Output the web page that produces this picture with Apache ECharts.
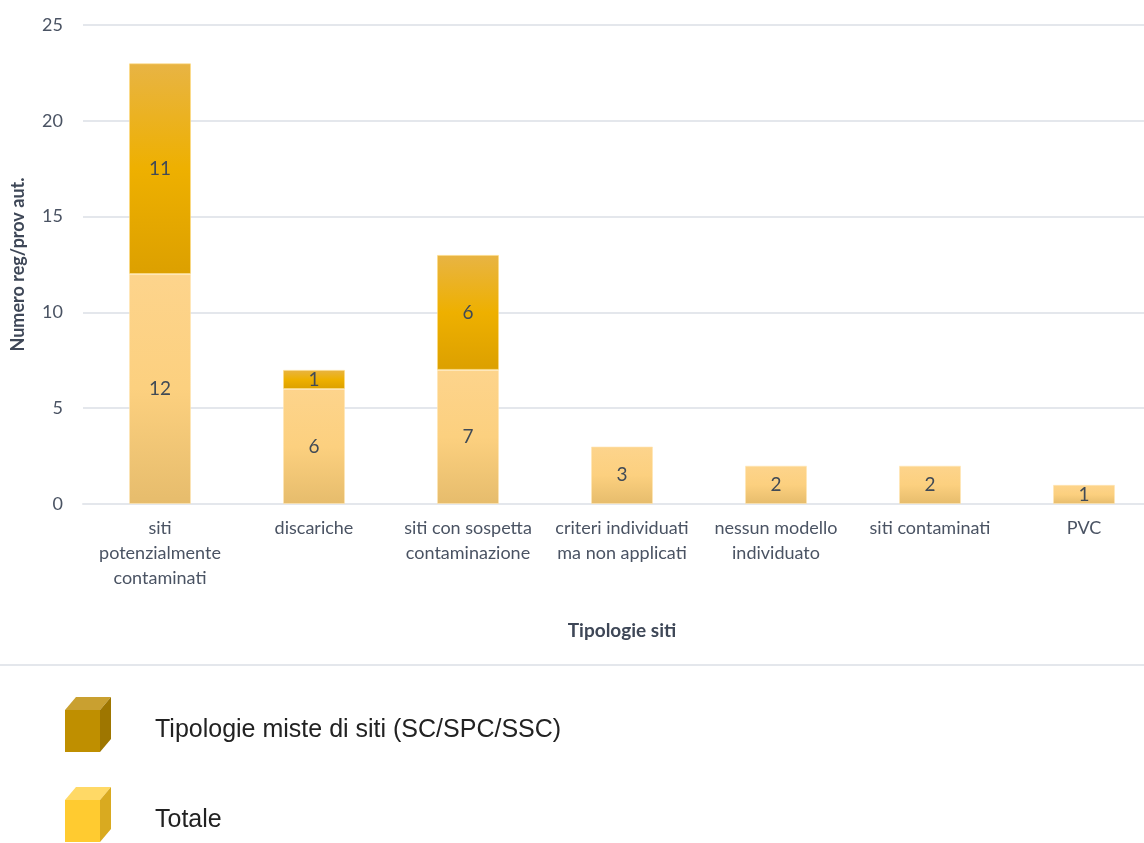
<!DOCTYPE html>
<html><head><meta charset="utf-8">
<script src="https://cdn.jsdelivr.net/npm/echarts@6/dist/echarts.min.js"></script>
<style>html,body{margin:0;padding:0;background:#fff}#c{width:1144px;height:843px}</style>
</head><body><div id="c"></div>
<script>
var categories = ["siti\npotenzialmente\ncontaminati","discariche","siti con sospetta\ncontaminazione","criteri individuati\nma non applicati","nessun modello\nindividuato","siti contaminati","PVC"];
var totale = [12,6,7,3,2,2,1];
var miste = [11,1,6,null,null,null,null];
var yTicks = {min:0,max:25,interval:5};

function boxIcon(front, top, side){
  var s = '<svg xmlns="http://www.w3.org/2000/svg" width="46" height="55" viewBox="0 0 46 55">'+
    '<rect x="0" y="13" width="35" height="42" fill="'+front+'"/>'+
    '<polygon points="0,13 11,0 46,0 35,13" fill="'+top+'"/>'+
    '<polygon points="35,13 46,0 46,42 35,55" fill="'+side+'"/></svg>';
  return 'image://data:image/svg+xml;charset=utf-8,' + encodeURIComponent(s);
}
var font = 'Lato, "Open Sans", sans-serif';
var chart = echarts.init(document.getElementById('c'));
chart.setOption({
  animation:false,
  graphic:[{type:'line',shape:{x1:0,y1:665,x2:1144,y2:665},style:{stroke:'#E4E7EC',lineWidth:2}}],
  grid:{left:83,top:25,width:1078,height:479,outerBoundsMode:'none',containLabel:false},
  legend:{
    orient:'vertical',left:65,top:697,padding:0,itemWidth:46,itemHeight:55,itemGap:35,
    formatter:function(n){return '\n'+n;},
    textStyle:{fontFamily:'"Liberation Sans", Arial, sans-serif',fontSize:25,color:'#222',padding:[0,0,0,39],lineHeight:12},
    data:[{name:'Tipologie miste di siti (SC/SPC/SSC)',icon:boxIcon('#BF8F00','#C9A030','#9E7600')},
          {name:'Totale',icon:boxIcon('#FFCB30','#FFD966','#D9AA20')}]
  },
  xAxis:{type:'category',data:categories,
    axisLine:{lineStyle:{color:'#E4E7EC',width:2}},axisTick:{show:false},
    axisLabel:{interval:0,color:'#4A5363',fontFamily:font,fontSize:18,lineHeight:25,margin:12},
    name:'Tipologie siti',nameLocation:'middle',nameGap:117,
    nameTextStyle:{fontFamily:font,fontSize:19,fontWeight:'bold',color:'#3E4757'}},
  yAxis:{type:'value',min:yTicks.min,max:yTicks.max,interval:yTicks.interval,
    axisLine:{show:false},axisTick:{show:false},
    splitLine:{lineStyle:{color:'#E4E7EC',width:2}},
    axisLabel:{color:'#4A5363',fontFamily:font,fontSize:18,margin:20},
    name:'Numero reg/prov aut.',nameLocation:'middle',nameGap:56,
    nameTextStyle:{fontFamily:font,fontSize:18,fontWeight:'bold',color:'#3E4757'}},
  series:[
    {name:'Totale',type:'bar',stack:'s',barWidth:62,data:totale,
     itemStyle:{color:new echarts.graphic.LinearGradient(0,0,0,1,[{offset:0,color:'#FDD48C'},{offset:0.5,color:'#FCD07F'},{offset:1,color:'#E6BC6C'}]),borderColor:'rgba(255,230,180,0.6)',borderWidth:1},
     label:{show:true,position:'inside',color:'#404A56',fontFamily:font,fontSize:19}},
    {name:'Tipologie miste di siti (SC/SPC/SSC)',type:'bar',stack:'s',barWidth:62,data:miste,
     itemStyle:{color:new echarts.graphic.LinearGradient(0,0,0,1,[{offset:0,color:'#E8B444'},{offset:0.5,color:'#EEB000'},{offset:1,color:'#DCA000'}]),borderColor:'rgba(255,220,130,0.6)',borderWidth:1},
     label:{show:true,position:'inside',color:'#404A56',fontFamily:font,fontSize:19}}
  ]
});
</script></body></html>
